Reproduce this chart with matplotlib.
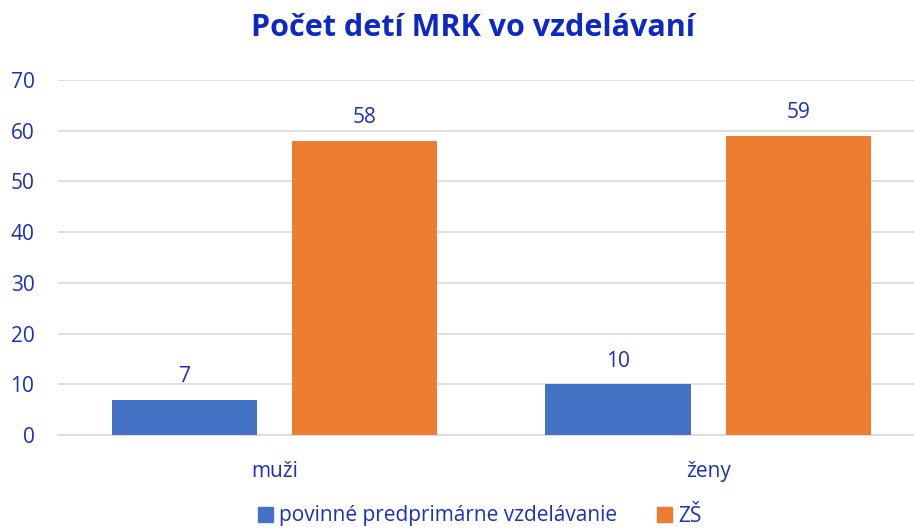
import numpy as np
import matplotlib.pyplot as plt
from matplotlib.patches import Patch

categories = ["muži", "ženy"]
series_names = ["povinné predprimárne vzdelávanie", "ZŠ"]
predprimarne = [7, 10]
zs = [58, 59]
yticks = [0, 10, 20, 30, 40, 50, 60, 70]

blue = "#4472C4"
orange = "#ED7D31"
txt = "#1A30BE"

plt.rcParams['font.family'] = ['Open Sans', 'DejaVu Sans']

fig = plt.figure(figsize=(9.14, 5.29), dpi=100)
ax = fig.add_axes([58/914, 94/529, 1 - 58/914, 355/529])

x = np.arange(len(categories))
w = 0.335
off = 0.208
b1 = ax.bar(x - off, predprimarne, w, color=blue, zorder=3)
b2 = ax.bar(x + off, zs, w, color=orange, zorder=3)

for bars, vals in ((b1, predprimarne), (b2, zs)):
    for r, v in zip(bars, vals):
        ax.annotate(str(v), (r.get_x() + r.get_width()/2, v), xytext=(0, 9),
                    textcoords="offset points", ha="center", va="bottom",
                    fontsize=15, color=txt)

ax.set_xlim(-0.5, 1.475)
ax.set_ylim(0, 70)
ax.set_yticks(yticks)
ax.set_xticks(x)
ax.set_xticklabels(categories)
ax.tick_params(axis="both", length=0, labelsize=15, labelcolor=txt)
ax.tick_params(axis="y", pad=17)
ax.tick_params(axis="x", pad=19)
ax.yaxis.grid(True, color="#D9D9D9", linewidth=1.2, zorder=0)
for s in ["top", "right", "left"]:
    ax.spines[s].set_visible(False)
ax.spines["bottom"].set_color("#D9D9D9")
ax.spines["bottom"].set_linewidth(1.2)

fig.text(0.518, 1 - 28/529, "Počet detí MRK vo vzdelávaní", ha="center", va="center",
         fontsize=22, fontweight="bold", color="#0D28C4")

handles = [Patch(color=blue), Patch(color=orange)]
fig.legend(handles, series_names, loc="center", bbox_to_anchor=(0.525, 13/529),
           ncol=2, frameon=False, fontsize=15, labelcolor=txt,
           handlelength=0.7, handleheight=0.7, handletextpad=0.3, columnspacing=1.9)

fig.savefig("out.png", dpi=100)
